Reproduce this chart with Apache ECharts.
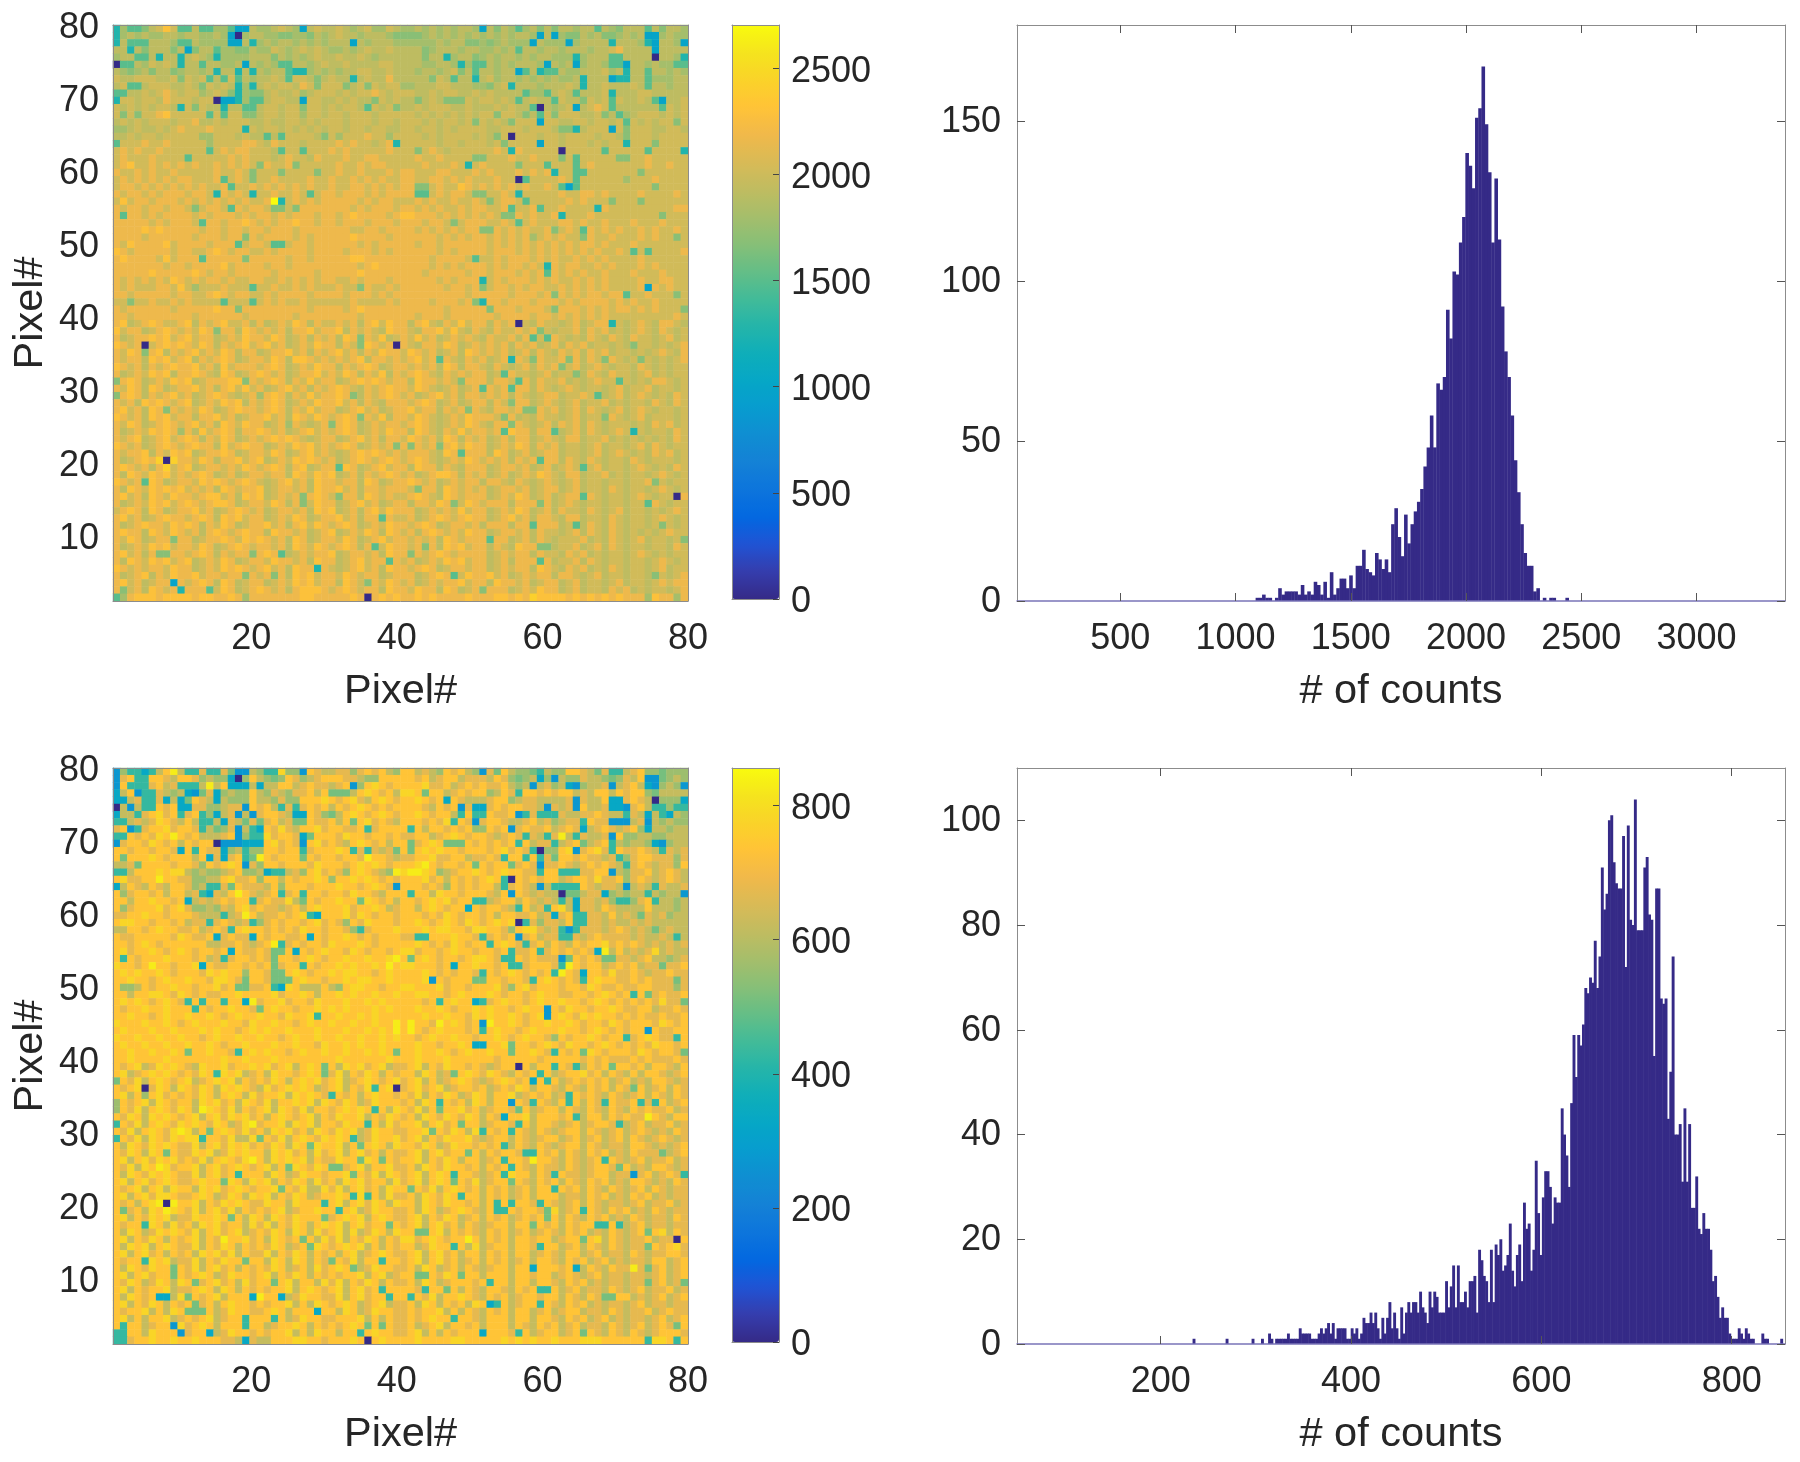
<!DOCTYPE html>
<html>
<head>
<meta charset="utf-8">
<script src="https://cdn.jsdelivr.net/npm/echarts@6/dist/echarts.min.js"></script>
<style>
  html, body { margin: 0; padding: 0; background: #fff; }
  #main { width: 1800px; height: 1462px; }
</style>
</head>
<body>
<div id="main"></div>
<script>
// 色阶字符 -> 数值（从图上读的大致级别）
var heatTopLevels = { 0: 0, 1: 1000, 2: 1260, 3: 1500, 4: 1680, 5: 1800, 6: 1920, 7: 2020, 8: 2170, 9: 2290, a: 2420, y: 2700 };
var heatBottomLevels = { 0: 0, 1: 270, 2: 330, 3: 430, 4: 510, 5: 560, 6: 620, 7: 675, 8: 735, 9: 780, y: 830 };

// 第一行是图的最上面一行 (Pixel# 80)
var heatTopRows = [
"2533467973 3633553116 5567651676 6765675576 55656565665 1646535646 4665663654 666364665",
"2565655665 6655651056 6554455465 6766566654 44456565656 5656566516 1544656445 656115655",
"2633366653 3655551162 5656656565 6661656665 55555656644 5456555165 5515666626 665216651",
"6626466646 1466355446 5576567676 5565676676 66645666566 5565636656 6566656678 666616666",
"5663362662 6765255556 6646565676 6766765666 66646625664 5656656566 5552566633 666606652",
"0336576762 6636655616 5653366567 6676666776 66655665253 3656566651 6561566533 166565533",
"6545646645 6656266262 6566322565 6566776676 66566567463 6656613623 3655666756 266366565",
"7667776674 7673637365 6676377646 7662676686 66664763662 6756656565 6556266612 266355566",
"6733677766 7647676252 6767768747 7746747677 55666776665 5467266656 6676266766 676366566",
"3366767876 7756764254 4676675677 7676778767 77667677667 6766663553 6763666726 667766666",
"2776776877 7677011253 3677661776 6767664767 66467644476 7767636766 3766476737 667631667",
"7676767762 7476626633 6776774776 7677637674 66767776676 6676766306 5671678736 666663767",
"7474778977 7773737744 6776775776 7767776777 77676767676 7747764637 4777667463 567776767",
"6767677767 7866767776 6766776767 7767776776 77767677674 7676477717 7667767767 376767747",
"5567667678 7778777727 6776767676 7767767766 77677676777 7667776777 6442677717 477766776",
"6676776777 7755777676 6363777764 7577787757 77767677776 7647077767 7677776776 477767777",
"3777877877 7775777788 7687776777 7878776782 77777677677 7674777717 7677767677 277747777",
"7878778777 7773787887 7763773777 8787777787 77478767777 7787287777 7077777377 777377772",
"7877787777 3777778787 7767877687 7787788777 77877877774 4777877877 7473777774 477877777",
"7897787878 7877878787 4877847777 7877878877 77787778727 8777747773 7773787777 777877877",
"8778787787 7777877874 7774777747 7877877787 88777887778 7877787878 2773377777 774777777",
"7878787878 8777837874 7787777877 8778787877 88778878787 7787703777 7873777777 577787777",
"7887878787 8787783778 7878787877 8778878787 88447877987 8787878778 7313777777 777747777",
"8788787888 7887287872 7787787378 8788878788 88337878874 4778727777 7877887877 778777787",
"7978878887 8787878787 78y2787878 8888787887 77878778778 7478873777 7787877747 774777777",
"8788788788 7478873878 8744748888 8887878887 88787877878 8778377837 7877772877 777777788",
"8388787888 8787888787 8878788878 8789888878 99888787878 7874487877 8277787777 777774777",
"8888878788 8738878898 7878898878 8788878887 88878874788 8778737877 7887877877 787778777",
"8888989888 8878878878 8788878888 8887788788 88787878788 4487878778 4787387878 778787787",
"8888788888 8788878848 7888878788 8889888878 88888787878 8787878578 7877487787 778787747",
"8798888978 8887888378 8733788788 8888787888 88788788888 8787878787 8787887877 787777777",
"9878888878 8778987887 7878888788 8878887878 88888787888 8788878787 8787878778 737377778",
"8988887978 8838888848 8888788788 8889988888 88887888873 7787888787 8778787877 778777777",
"8888888788 7888897888 8788788888 8888789888 88887878788 8787887872 8788778787 778787777",
"8888898888 8987887888 8878888878 8888988888 88878888878 8788878783 8787877877 787778777",
"8787878798 7878878778 8778787878 8778788878 88888787888 2787888787 8778787877 778778877",
"8787778879 7577787773 7787787877 7877487787 88888878878 4788787887 7878787877 778187877",
"8878888878 8778987887 7878888788 8878887878 88888888878 8888788878 4878788788 377877747",
"7747787787 8777737773 7878778777 7778777787 88887888784 2887888788 8787888878 787787777",
"8788888878 8888988488 8888888788 8878988888 88888878888 8488878887 4888787878 878787774",
"8878888888 8788888878 8888878888 8888788888 88788878888 8878888788 7878787877 777777787",
"8967898778 9687897786 8678798687 7878689798 86897687978 8687807687 7678678827 678768876",
"9788678987 8798488698 7878688978 8968787698 87688979768 7687787847 6778687867 678768767",
"8678898978 9788678798 8798678687 8698487967 87978678787 6877868373 8767687687 687767867",
"9878078989 8798687897 8978678798 8687498780 87688798678 7878687867 8687867767 647767678",
"8798489687 8978798688 6788978687 8978687988 79878678698 7878678687 6878687867 767678768",
"8788698978 9687898678 8798699878 7878968878 78978387687 8678287487 7848687487 674767678",
"9878687898 8978697888 7898678798 8687898678 87878698688 7687678687 8478678767 768767677",
"8678798968 8987698678 9878678897 8798687968 78987687878 8673877678 6774687687 767867677",
"4898678798 9678889948 7898687978 8678989878 86988787488 8688738687 7867678773 767688767",
"8798698678 8978689797 8678978687 8987687898 87987678678 3878388687 6787677678 677867767",
"4898687897 8678987678 5898687978 8984687898 78678978688 7878687678 8677873678 678767687",
"8786989878 9678798968 7898678798 8978687688 87898678678 8687488678 7678677867 677687687",
"8978698487 8798678988 7898687978 8678978678 89788687848 7688784487 8678687678 678767767",
"9878698978 8688978678 8978698798 7898487968 87987678798 8874867687 7678677487 678677767",
"8798678987 8978698798 8678587678 4898678788 78987678798 7688487678 6878687677 767687867",
"8678798985 8697898688 9878678978 7898678798 86987687978 8783988688 3678687678 727677687",
"8789678978 9868798678 7898987678 8678978688 79878698687 8678688678 7688677867 676767687",
"9878678987 8988697898 8678798978 7898678784 84878489798 8678798687 8677678677 678687677",
"8788968798 9678898678 8798678978 7678989878 78887698388 8698678678 8677678678 767687867",
"867898a0a8 8798688978 9678798987 8678987898 78987678798 7878687838 8687687677 687677767",
"8987868a78 9678878798 7898689678 8398678978 86988687688 8678878678 6787378677 678767687",
"8698798978 7898678678 8788698798 9678687898 78678998687 8678678798 7688677867 677678767",
"9878398678 8798987898 7678978698 8788698678 89878678788 6887687678 7678677677 677847677",
"8698798989 7878698788 9678878698 8978688788 87488698787 8678878678 8678677687 677678767",
"8978698798 8789978698 9678784898 7488698787 78987698788 8678798678 6788387677 678767708",
"8678798978 9878998678 8798684798 8678978678 86887984798 7888688848 6787677677 677387677",
"7898698678 8978678987 8678878698 9678689798 88678787978 8678798678 6877687678 677676787",
"8978678988 7898698978 8678798678 8978688387 78678987898 8678978688 7688677687 677678767",
"8678988798 9868798678 8978689798 7898678798 87898678878 6888688388 8673687687 677674767",
"8988698798 7868987898 8698878678 9678798698 78689878798 8678878687 7678687687 676767877",
"8798678848 8678898798 9878698678 8798678978 87878698788 8388678687 6777867687 678677674",
"8678798978 8798678987 8878698798 7898683798 87848698978 8687698844 6778678687 677677687",
"8978684488 7898687884 8983678788 9678878698 84878987888 8678788687 7687867677 678767677",
"8698798978 9678798678 8798878698 8678978838 78678798978 8678688838 6778687677 677678767",
"9878788798 8678798987 8978698828 7678978698 87898678878 8678788698 7687867687 677678677",
"8678968798 8978878848 7848698978 8798788678 88678983798 8978678788 6887678677 677647678",
"8978678818 7898698678 8678798978 8698748798 78678788978 8698878678 8678677678 677678788",
"8478698782 8883798678 9878689998 7898788698 87988698678 4888678798 8678677687 867677678",
"3589998999 9899889858 8888889988 8889808989 88989888898 8899898a99 9989898989 888598858"
];

var heatBottomRows = [
"15332368y6 3373374116 5339551876 6775787865 88676587865 1748655436 5588764733 678554555",
"1783388768 8756552058 6545875678 8877655888 88786788677 7687545625 1655766545 768114565",
"1833378673 336y682226 2668867877 6781589878 88897786787 8778656167 5621566716 786215651",
"2681337656 2147256558 6576577868 4446898786 99848867878 8568738878 7886768868 788546666",
"2267337262 4876265558 6657558889 8789768987 88987828766 6788567766 6671766822 787605552",
"0616338782 2775567718 7863737878 6878987878 88876878172 2787887761 7671866722 178633533",
"2663789783 7835267161 7887622875 4689878987 88987886383 3877813733 3766778766 376263265",
"3367679876 8633627647 4786744877 8684897876 88878793871 7887667867 5677387711 167165655",
"7813788978 8736457163 2879768897 8877837888 83868878785 5878178778 6787267876 785266566",
"33878798y8 7866678153 3978872488 8798878878 77886789878 8767873763 7y63766718 556655666",
"1788798786 8788011122 2897871897 8768987868 84789844487 8787838677 3678467836 566521566",
"8878878872 8387725635 5887883788 8983737674 84898988788 8789787305 5891789738 778763767",
"8488898788 8682727834 y878884878 87887y8876 77889778867 7873883837 4887877673 578877757",
"6674888878 8758789817 5887888798 8878989878 889y8788784 8788478717 7876787876 378767758",
"3368889899 6565567855 6233675897 875898765y 9yy98567889 8789887738 8333778816 577867876",
"897788y887 7556689778 5886878898 5889898787 88897868787 8983087878 8678879778 578767876",
"2687687688 7563374877 7685888788 8988789871 88878758787 8863787616 3333876776 167637667",
"8578878688 6732768y87 6783783887 8879887688 83886988788 8768187676 6044677256 566365661",
"8868898878 2676787883 7877964878 8988498786 88789897883 3678868767 6362776753 357836656",
"8578889789 7556576897 8776786898 8897889867 88689878828 7887638673 8962776876 666866656",
"7788988788 87666367y8 6778789328 8897987887 88878798788 7868877867 2783377686 764767566",
"8998878878 6773787673 5787887897 8758798887 88987898798 7898903757 7683377676 676766666",
"6688789887 7867873898 8787879887 8875378889 88898998879 9887589976 7313777678 767646766",
"8778888879 8778278772 8788778287 8898787888 77338889887 3787817867 7337678777 767667636",
"8878987888 8886677876 78y3787887 9888987888 88987879878 8389873786 8768788978 787676767",
"8978898789 8788782877 8744828789 8879878878 99788789887 8878377837 8787872y68 676796766",
"8387888988 8786737887 8748878987 889889889y 84898788789 9873387877 7148787447 767866567",
"98878y8878 8928778878 7847883878 89898898y8 99888782889 8878337888 73y8788678 786774778",
"8989889878 8879898858 8744898788 9899887898 88898787887 3878987878 3y87288797 787677877",
"8898878988 9887998748 8744489887 8898998898 88891878884 4887887389 8787389887 787877747",
"8556878898 8788978447 7832986668 6589988788 99888978878 8897589788 8788798778 778877757",
"8868899879 8787788988 8897889868 8989889889 88998878988 8987887898 8778878987 838478778",
"8989878987 383883882y 7889788798 8898898988 88878389882 3789887898 8988789878 787879774",
"8788988988 8387889887 4898878898 9898889898 88988987889 8988789881 8798878898 778867787",
"8898878988 9889878988 9887988938 8988989888 88898898879 8988987891 8987989887 878778778",
"9888988987 8988898879 8898878988 988988988y 8y887y89878 1y88987889 8898788798 788879878",
"8988898898 8898988789 8988988898 889889898y 8y878988878 3898878988 8988789878 788187788",
"9889889889 8878988988 9887898898 8988988989 88789889887 8898789887 5878898788 378987738",
"8988988988 9889878898 8898898879 8898988988 88988788982 2889488789 8798878987 878798878",
"8898898898 4889887389 8988789889 8898898984 88988987898 8988488987 3878498788 879878874",
"8898888988 8888898898 8898888888 8988888898 88988898888 8878888878 8888787877 787877787",
"8789679898 7698897889 8978968984 8698978967 78968798878 7678808688 3873687848 878688768",
"8967898987 8798398967 8698878984 7968798687 88698674898 7987687838 6788978687 686887678",
"4879689878 9678989687 8798689897 8967898789 78968678987 6789878283 8678787867 867688767",
"8789079869 8798698987 6978989867 8968793890 78978967887 8678798688 7687687868 748678687",
"8968589787 8798689869 7889698987 3878689887 87968798679 8688967878 6738787687 678687687",
"5878969878 8698978698 7968898969 8798679888 78698387869 8688187387 6838687387 783738678",
"5879689879 86y9879687 8969879688 7898983869 87968488978 6788748678 8687687687 687877867",
"8798698987 8968979897 8689878968 7988968798 78698798798 6872889688 8783688687 877y87688",
"3879689879 898798679y 7889698968 8798838697 88968978488 6788738688 7678678873 678677867",
"879689879y 9684898797 8698978698 7989679887 78894879869 3878387687 6788687678 678767687",
"3879698798 9938879669 4879689879 8983679889 78968798897 6788687678 8678678678 687678767",
"8698798987 7968979897 8798698498 8968489869 88798679887 8783687687 6788687677 688767678",
"8798698487 7989679898 8698978697 8968978687 78968978848 6878873387 8687687867 687774678",
"8968979897 879689879y 8698989687 7988498487 88968798688 6783887y88 7687678387 678677867",
"879698y978 8968978987 8968498798 4478968897 78698798878 6878387687 7687678874 867688767",
"8698798987 7968978388 8698679887 8894879698 78968983887 6783988687 3877678867 717867873",
"8968978987 7898849869 8968798697 8698978869 78968984879 6788487687 8687687867 688767687",
"8789689698 8698978987 8894879669 7968978698 84879689878 6878678688 3878687687 678687677",
"8968979987 7898679869 8968798678 8983938697 78698798388 6878678688 8677687867 687867677",
"878689y0y8 8968798987 7988698883 8968979869 88698798878 6838388738 7678687677 678677867",
"8478698y98 7968979687 8789678898 8389679887 78698678987 6833878874 9678387687 867687677",
"8968798967 7988984869 8698798884 7898968987 78968798678 6878678784 8687687867 687677687",
"8788398697 8698978869 7968798689 8968978848 78968978687 6788688487 8687883383 678677677",
"8698679898 7968978967 8798698697 8969679869 88448968787 6878678678 7687867687 678489687",
"8968798687 89687y8897 8698784869 7968798687 997898788y8 6878688788 6788489687 677867708",
"8698968987 7968798687 8798678498 7898968687 88679883869 6788688738 8678687687 677487897",
"8968978687 8698979687 7968798687 8689678987 78968978688 6878688678 7688678677 687677887",
"8788398967 7968798848 8698698687 4879688388 78968978678 6878678688 7687867867 677688678",
"8698798848 7968978687 8798678697 8984679887 78698678687 6788688288 8782687687 7y7478678",
"8968978848 7898679887 8968798687 8788968967 88448798488 6888688788 6787678677 677678678",
"8798679869 8478978697 8848968869 7968798687 78698678887 8388688688 7687867677 677478674",
"8968788967 7898698687 8788968987 8968978388 88738848687 6887687833 8678677687 678677867",
"8698782269 4878968882 y882679887 7968978838 83879688987 6878678878 8687687448 867678678",
"8968798687 8478689887 8788968698 7898678967 78698687869 8238678838 7687867677 678677677",
"8788968698 4448679887 7898688828 8698679887 78788968687 6878688678 6788677687 677867877",
"8968688967 8789678838 8838679887 7888968687 78789883887 6888688688 7687867867 677678678",
"8388678819 7898688838 8678898687 8789848487 78678968878 6888687687 8678677687 678678748",
"3388698881 7882679887 8788968698 8688389887 78968687888 2888738678 8678487687 687678887",
"3378898898 8988877627 6688899887 8889808988 88988889988 8889898988 9888999888 888399838"
];

var pixelIds = [];
for (var p = 1; p <= 80; p++) pixelIds.push(p);

var pixelXTicks = [20, 40, 60, 80];
var pixelYTicks = [10, 20, 30, 40, 50, 60, 70, 80];

var colorTopMax = 2703;
var colorBottomMax = 856;
var colorTopTicks = [0, 500, 1000, 1500, 2000, 2500];
var colorBottomTicks = [0, 200, 400, 600, 800];

// 直方图：起始 bin 中心、bin 宽、每个 bin 的计数
var histTopStart = 1095;
var histTopStep = 14;
var histTopCounts = [1,1,2,1,1,0,1,4,2,3,3,3,3,2,5,2,3,2,6,5,2,6,1,9,2,4,7,7,4,8,4,11,11,16,10,9,8,15,13,10,13,9,24,29,20,14,27,18,24,28,31,35,42,48,58,48,68,66,70,91,82,103,102,112,120,140,136,129,151,154,167,149,134,112,132,113,92,78,70,58,44,34,24,15,11,11,3,4,0,1,0,1,1,0,0,0,1];
var histTopXTicks = [500, 1000, 1500, 2000, 2500, 3000];
var histTopYTicks = [0, 50, 100, 150];

var histBottomStart = 235;
var histBottomStep = 2.48;
var histBottomCounts = [1,0,0,0,0,0,0,0,0,0,0,0,0,0,
  1,0,0,0,0,0,0,0,0,0,0,1,0,0,0,1,0,0,2,1,0,1,1,1,1,1,2,1,1,1,1,3,2,2,2,2,1,1,1,2,3,2,3,4,2,4,1,3,3,3,3,1,1,3,2,3,1,2,
  5,4,4,6,4,6,3,1,5,2,5,8,3,6,3,1,7,2,6,8,6,8,8,6,10,7,6,4,10,7,10,9,6,6,6,12,7,11,15,7,15,8,8,10,7,12,12,13,6,18,16,13,12,8,18,8,19,17,20,14,15,17,23,14,11,17,19,12,27,22,23,14,18,35,25,17,28,33,33,30,23,28,27,27,45,40,36,30,46,59,51,59,57,61,68,67,70,69,77,68,74,91,83,86,100,101,92,88,87,87,97,72,99,81,80,104,79,79,79,91,93,82,81,55,87,87,66,65,66,43,52,74,40,40,42,31,45,31,42,26,26,32,22,21,25,22,22,18,12,13,9,5,7,5,5,2,1,1,1,3,2,1,3,2,1,1,0,0,0,2,1,1,0,0,0,0,0,1];
var histBottomXTicks = [200, 400, 600, 800];
var histBottomYTicks = [0, 20, 40, 60, 80, 100];

// parula
var parula = ['#352A87','#353DAD','#2053D4','#0268E1','#0D75DC','#1481D6','#108ED2','#079CCF','#06A7C6','#0FAEB9','#25B5A9','#42BB98','#65BE86','#87BF77','#A5BE6B','#C0BC60','#D9BA56','#F1B94A','#FFC337','#FAD329','#F5E41D','#F9FB0E'];

var textColor = '#262626';
var frameColor = '#8c8c8c';
var barColor = '#352A87';
var baseColor = '#7a74b8';
var fontName = '"Liberation Sans", Arial, sans-serif';
var tickFont = 36;
var nameFont = 41.5;

function plainNumber(v) {
  return String(v);
}

function heatData(rows, levels) {
  var out = [];
  rows.forEach(function (row, r) {
    var cells = row.replace(/ /g, '');
    if (cells.length !== 80) throw new Error('row ' + r + ' has ' + cells.length);
    for (var c = 0; c < 80; c++) {
      out.push([c, 79 - r, levels[cells.charAt(c)]]);
    }
  });
  return out;
}

function histData(start, step, counts) {
  return counts.map(function (n, i) {
    return [start + i * step, n];
  });
}

var grids = [], xAxes = [], yAxes = [], series = [], visualMaps = [];

function addFrameAxis(list, gridIndex, pos, min, max, ticks) {
  list.push({
    type: 'value', gridIndex: gridIndex, position: pos, min: min, max: max, z: 5,
    axisLine: { show: true, onZero: false, lineStyle: { color: frameColor, width: 1 } },
    axisTick: { show: !!ticks, inside: true, length: 8, customValues: ticks || [], lineStyle: { color: '#555' } },
    axisLabel: { show: false, customValues: ticks || [] },
    splitLine: { show: false }
  });
  return list.length - 1;
}

function labelAxis(gridIndex, pos, min, max, ticks, showTick, name, gap, margin, baseline, drop) {
  var label = { customValues: ticks, formatter: plainNumber, fontSize: tickFont, fontFamily: fontName, color: textColor, margin: margin, hideOverlap: false, showMinLabel: true, showMaxLabel: true };
  // 文字比刻度略低一点
  if (drop) {
    label.verticalAlign = 'top';
    label.lineHeight = drop;
  }
  return {
    type: 'value', gridIndex: gridIndex, position: pos, min: min, max: max, z: 5,
    name: name, nameLocation: 'middle', nameGap: gap,
    nameTextStyle: { fontSize: nameFont, fontFamily: fontName, color: textColor },
    axisLine: { show: true, onZero: false, lineStyle: { color: baseline || frameColor, width: baseline ? 1.5 : 1 } },
    axisTick: { show: showTick, inside: true, length: 8, customValues: ticks, lineStyle: { color: '#555' } },
    axisLabel: label,
    splitLine: { show: false }
  };
}

function addHeat(top, rows, levels, maxVal, cbTicks) {
  var g = grids.length;
  var height = 576;
  grids.push({ left: 113, top: top, width: 575, height: height, containLabel: false });

  // 类目轴给热力图用，不显示
  var xc = xAxes.length;
  xAxes.push({ type: 'category', gridIndex: g, data: pixelIds, show: false });
  var yc = yAxes.length;
  yAxes.push({ type: 'category', gridIndex: g, data: pixelIds, show: false });

  xAxes.push(labelAxis(g, 'bottom', 1, 80, pixelXTicks, false, 'Pixel#', 70, 20));
  yAxes.push(labelAxis(g, 'left', 1, 80, pixelYTicks, false, 'Pixel#', 61, 14, null, 7));
  addFrameAxis(xAxes, g, 'top', 1, 80);
  addFrameAxis(yAxes, g, 'right', 1, 80);

  var sIndex = series.length;
  series.push({
    type: 'heatmap', xAxisIndex: xc, yAxisIndex: yc,
    data: heatData(rows, levels), progressive: 0, animation: false, silent: true
  });
  visualMaps.push({
    type: 'continuous', seriesIndex: sIndex, min: 0, max: maxVal, calculable: false, hoverLink: false,
    left: 732, top: top, itemWidth: 47, itemHeight: height - 2, padding: 0, text: null, showLabel: false,
    inRange: { color: parula }
  });

  // 色条刻度
  var cb = grids.length;
  grids.push({ left: 732, top: top, width: 47, height: height - 2 });
  xAxes.push({ type: 'value', gridIndex: cb, min: 0, max: 1, position: 'bottom', z: 5, axisLine: { show: true, onZero: false, lineStyle: { color: frameColor } }, axisTick: { show: false }, axisLabel: { show: false }, splitLine: { show: false } });
  addFrameAxis(xAxes, cb, 'top', 0, 1);
  yAxes.push({
    type: 'value', gridIndex: cb, position: 'right', min: 0, max: maxVal, z: 5,
    axisLine: { show: true, onZero: false, lineStyle: { color: frameColor } },
    axisTick: { show: true, inside: true, length: 6, customValues: cbTicks, lineStyle: { color: '#444' } },
    axisLabel: { customValues: cbTicks, formatter: plainNumber, fontSize: tickFont, fontFamily: fontName, color: textColor, margin: 12, verticalAlign: 'top', lineHeight: 7 },
    splitLine: { show: false }
  });
  addFrameAxis(yAxes, cb, 'left', 0, maxVal);
}

function addHist(top, start, step, counts, xMin, xMax, xTicks, yMax, yTicks, barW) {
  var g = grids.length;
  grids.push({ left: 1017, top: top, width: 768, height: 576 });
  var xi = xAxes.length;
  xAxes.push(labelAxis(g, 'bottom', xMin, xMax, xTicks, true, '# of counts', 70, 20, baseColor));
  addFrameAxis(xAxes, g, 'top', xMin, xMax, xTicks);
  var yi = yAxes.length;
  yAxes.push({
    type: 'value', gridIndex: g, position: 'left', min: 0, max: yMax, z: 5,
    axisLine: { show: true, lineStyle: { color: frameColor } },
    axisTick: { show: true, inside: true, length: 8, customValues: yTicks, lineStyle: { color: '#555' } },
    axisLabel: { customValues: yTicks, fontSize: tickFont, fontFamily: fontName, color: textColor, margin: 16, verticalAlign: 'top', lineHeight: 2 },
    splitLine: { show: false }
  });
  addFrameAxis(yAxes, g, 'right', 0, yMax, yTicks);
  series.push({
    type: 'bar', xAxisIndex: xi, yAxisIndex: yi, barWidth: barW, animation: false, silent: true,
    itemStyle: { color: barColor },
    data: histData(start, step, counts)
  });
}

addHeat(25, heatTopRows, heatTopLevels, colorTopMax, colorTopTicks);
addHist(25, histTopStart, histTopStep, histTopCounts, 52, 3384, histTopXTicks, 180, histTopYTicks, 3.6);
addHeat(768, heatBottomRows, heatBottomLevels, colorBottomMax, colorBottomTicks);
addHist(768, histBottomStart, histBottomStep, histBottomCounts, 49, 856, histBottomXTicks, 110, histBottomYTicks, 2.9);

var chart = echarts.init(document.getElementById('main'));
chart.setOption({
  animation: false,
  backgroundColor: '#fff',
  grid: grids,
  xAxis: xAxes,
  yAxis: yAxes,
  visualMap: visualMaps,
  series: series
});
</script>
</body>
</html>
